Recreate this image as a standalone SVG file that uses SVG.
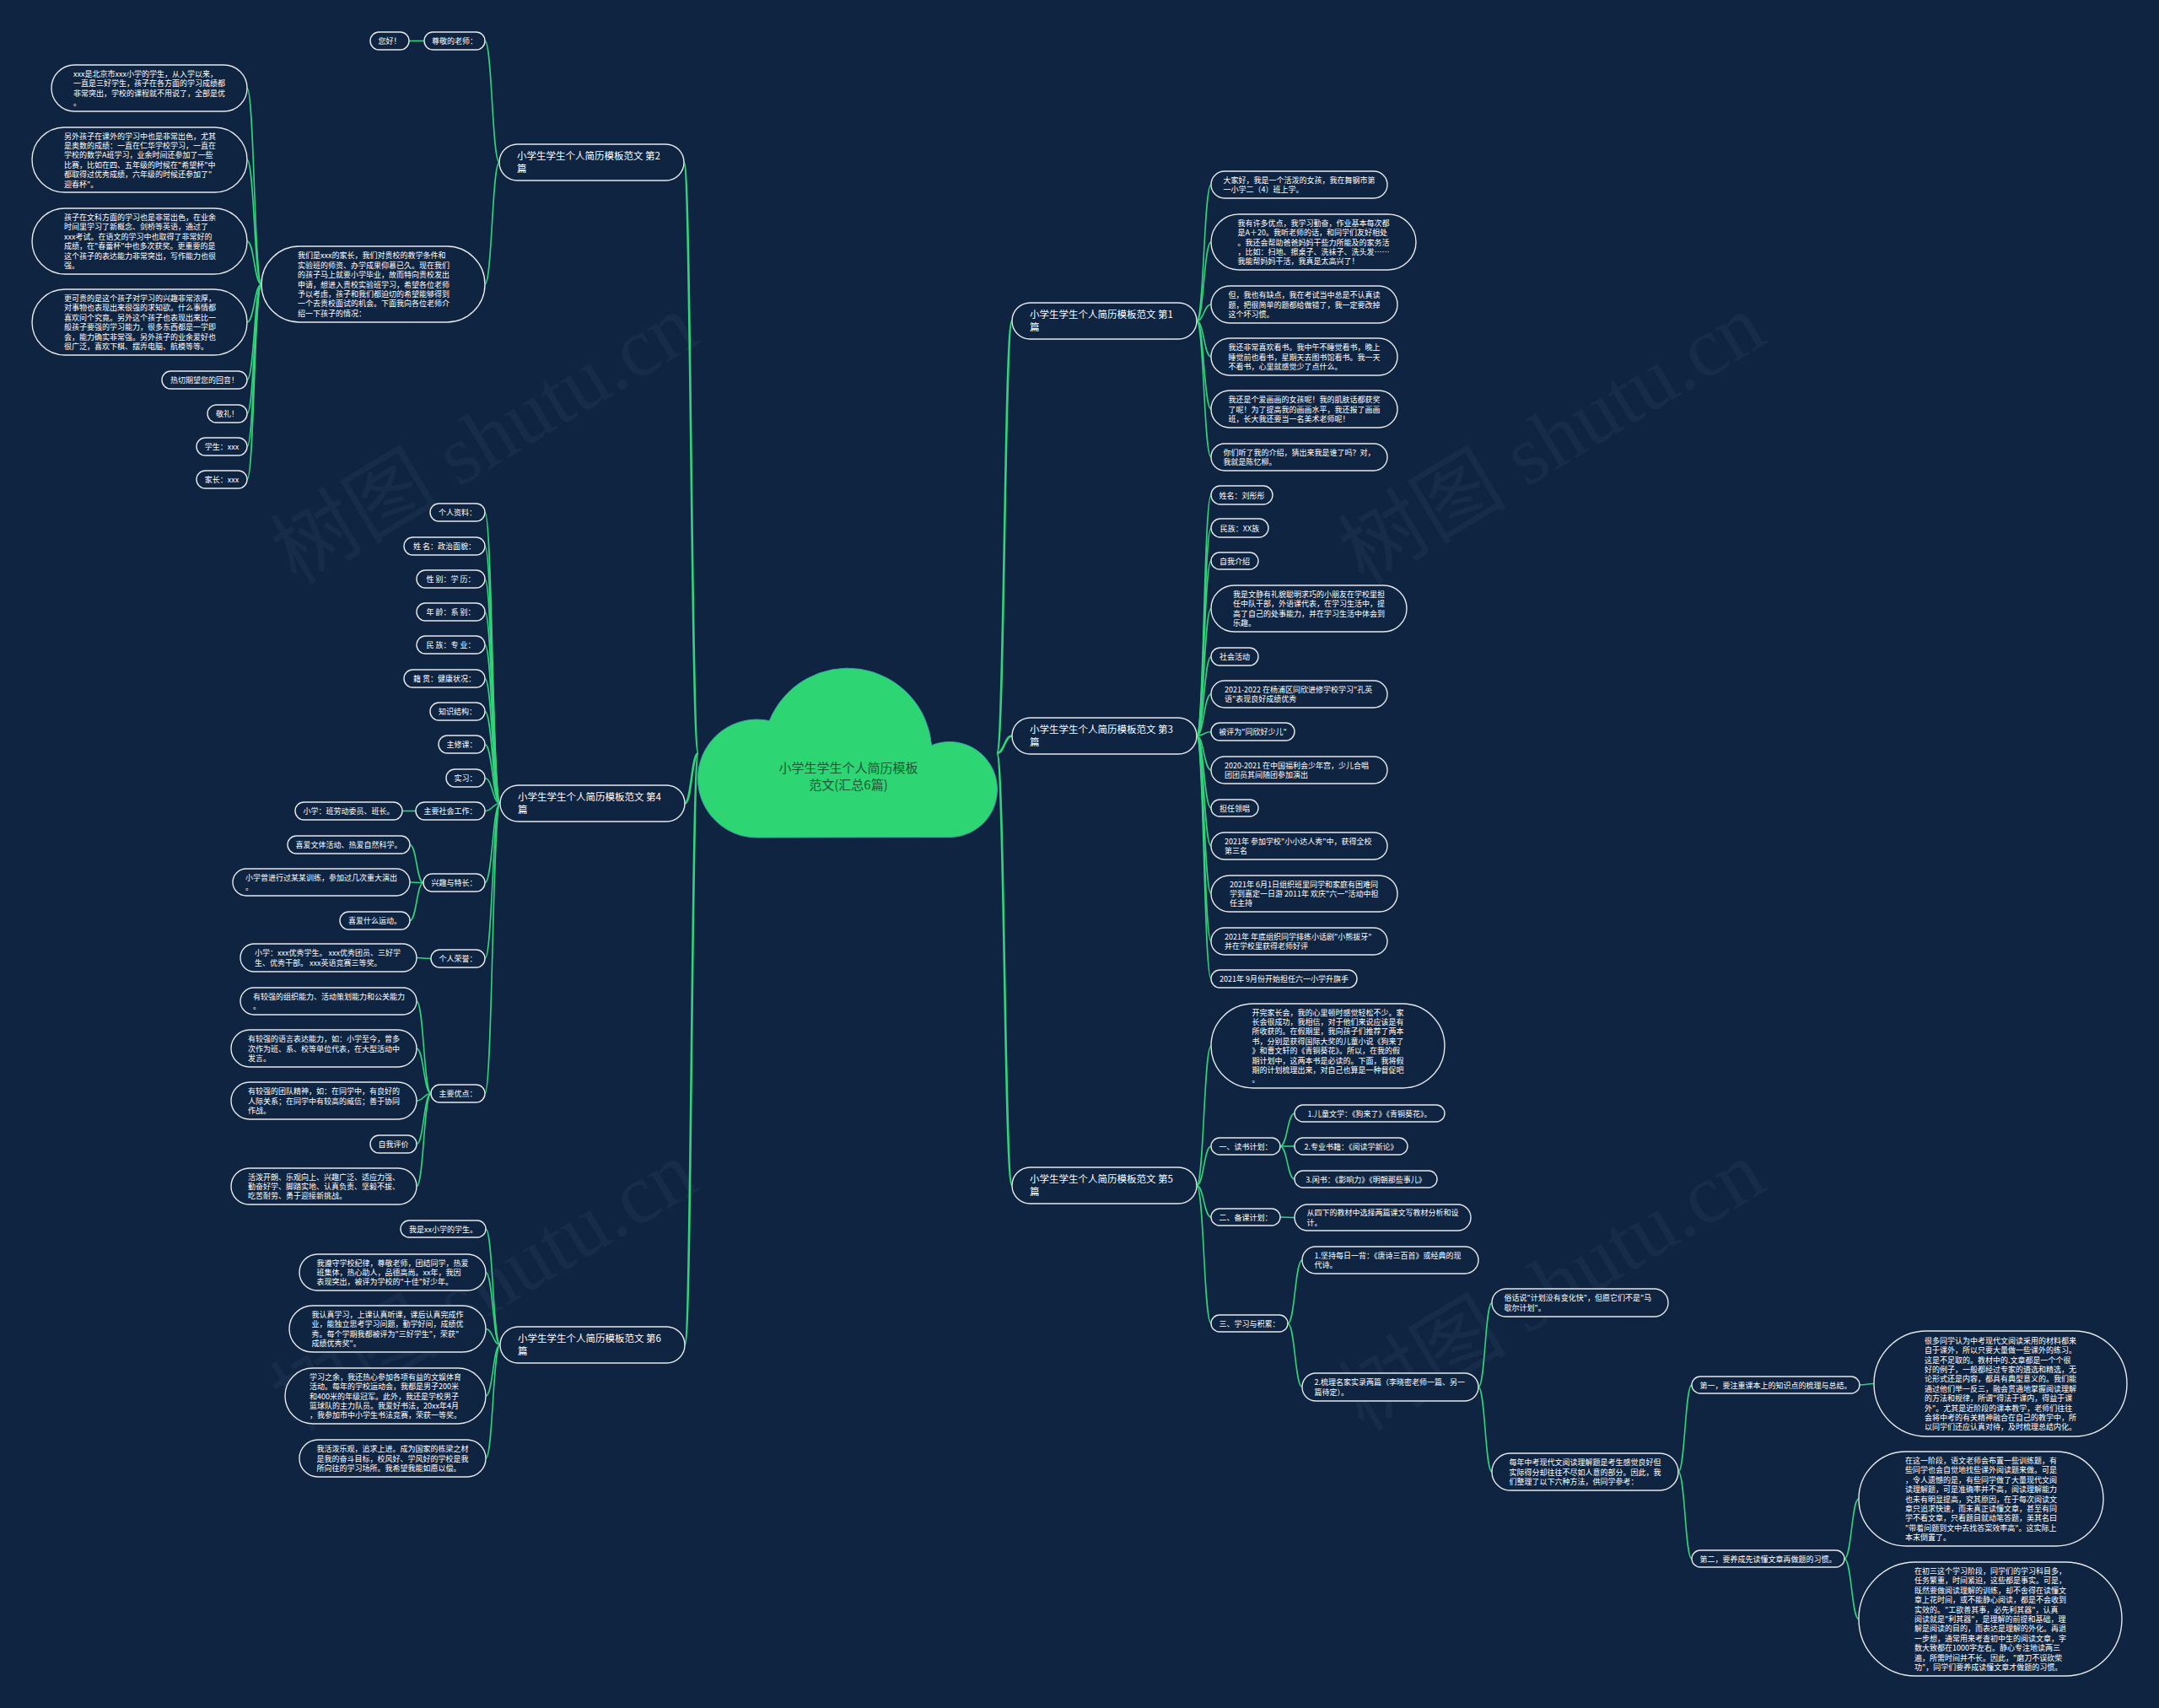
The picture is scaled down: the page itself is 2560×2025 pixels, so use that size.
<svg xmlns="http://www.w3.org/2000/svg" width="2560" height="2025" viewBox="0 0 2560 2025">
<style>
.nd{fill:#0e2441;stroke:#e6e8ec;stroke-width:1.4}
.tx{font-family:"Noto Sans CJK SC","Noto Sans",sans-serif;font-size:9px;fill:#ffffff}
.mt{font-size:11.5px}
.c{text-anchor:middle}
.ln{fill:none;stroke:#34d27b;stroke-width:1.6}
.lr{stroke-width:2.6}
.wm{font-family:"Liberation Serif","Noto Sans CJK SC",serif;font-size:100px;fill:#ffffff;opacity:0.035}
.root{font-family:"Noto Sans CJK SC","Noto Sans",sans-serif;font-size:15px;fill:#1a5a33;text-anchor:middle}
</style>
<rect width="2560" height="2025" fill="#0e2441"/>
<g id="watermark">
<text class="wm" transform="translate(351 694) rotate(-31)">树图 shutu.cn</text>
<text class="wm" transform="translate(1617 694) rotate(-31)">树图 shutu.cn</text>
<text class="wm" transform="translate(351 1698) rotate(-31)">树图 shutu.cn</text>
<text class="wm" transform="translate(1617 1698) rotate(-31)">树图 shutu.cn</text>
</g>
<g id="connectors">
<path class="ln lr" d="M828 893 C819.5 893 819.5 192.5 811 192.5"/>
<path class="ln lr" d="M828 893 C820 893 820 952.5 812 952.5"/>
<path class="ln lr" d="M828 893 C820 893 820 1594.5 812 1594.5"/>
<path class="ln lr" d="M1182 893 C1191 893 1191 380.5 1200 380.5"/>
<path class="ln lr" d="M1182 893 C1191 893 1191 872.5 1200 872.5"/>
<path class="ln lr" d="M1182 893 C1191 893 1191 1405.5 1200 1405.5"/>
<path class="ln" d="M592 192.5 C583.5 192.5 583.5 48.5 575 48.5"/>
<path class="ln" d="M592 192.5 C583.5 192.5 583.5 337 575 337"/>
<path class="ln" d="M503 48.5 L485 48.5"/>
<path class="ln" d="M310 337 C301.5 337 301.5 104.5 293 104.5"/>
<path class="ln" d="M310 337 C301.5 337 301.5 189.5 293 189.5"/>
<path class="ln" d="M310 337 C301.5 337 301.5 286 293 286"/>
<path class="ln" d="M310 337 C301.5 337 301.5 382 293 382"/>
<path class="ln" d="M310 337 C301.5 337 301.5 450.5 293 450.5"/>
<path class="ln" d="M310 337 C301.5 337 301.5 490.5 293 490.5"/>
<path class="ln" d="M310 337 C301.5 337 301.5 529.5 293 529.5"/>
<path class="ln" d="M310 337 C301.5 337 301.5 568.5 293 568.5"/>
<path class="ln" d="M593 952.5 C584 952.5 584 607.5 575 607.5"/>
<path class="ln" d="M593 952.5 C584 952.5 584 647.5 575 647.5"/>
<path class="ln" d="M593 952.5 C584 952.5 584 686.5 575 686.5"/>
<path class="ln" d="M593 952.5 C584 952.5 584 725.5 575 725.5"/>
<path class="ln" d="M593 952.5 C584 952.5 584 764.5 575 764.5"/>
<path class="ln" d="M593 952.5 C584 952.5 584 804.5 575 804.5"/>
<path class="ln" d="M593 952.5 C584 952.5 584 843.5 575 843.5"/>
<path class="ln" d="M593 952.5 C584 952.5 584 882.5 575 882.5"/>
<path class="ln" d="M593 952.5 C584 952.5 584 922.5 575 922.5"/>
<path class="ln" d="M593 952.5 C584 952.5 584 961.5 575 961.5"/>
<path class="ln" d="M593 952.5 C584 952.5 584 1046.5 575 1046.5"/>
<path class="ln" d="M593 952.5 C584 952.5 584 1136.5 575 1136.5"/>
<path class="ln" d="M593 952.5 C584 952.5 584 1296.5 575 1296.5"/>
<path class="ln" d="M493 961.5 L477 961.5"/>
<path class="ln" d="M502 1046.5 C494 1046.5 494 1001.5 486 1001.5"/>
<path class="ln" d="M502 1046.5 C494 1046.5 494 1046 486 1046"/>
<path class="ln" d="M502 1046.5 C494 1046.5 494 1091.5 486 1091.5"/>
<path class="ln" d="M511 1136.5 C502.5 1136.5 502.5 1135.5 494 1135.5"/>
<path class="ln" d="M511 1296.5 C502.5 1296.5 502.5 1187 494 1187"/>
<path class="ln" d="M511 1296.5 C502.5 1296.5 502.5 1243 494 1243"/>
<path class="ln" d="M511 1296.5 C502.5 1296.5 502.5 1305 494 1305"/>
<path class="ln" d="M511 1296.5 C502.5 1296.5 502.5 1356.5 494 1356.5"/>
<path class="ln" d="M511 1296.5 C502.5 1296.5 502.5 1406.5 494 1406.5"/>
<path class="ln" d="M593 1594.5 C584.5 1594.5 584.5 1457 576 1457"/>
<path class="ln" d="M593 1594.5 C584.5 1594.5 584.5 1508.5 576 1508.5"/>
<path class="ln" d="M593 1594.5 C584.5 1594.5 584.5 1575.5 576 1575.5"/>
<path class="ln" d="M593 1594.5 C584.5 1594.5 584.5 1655 576 1655"/>
<path class="ln" d="M593 1594.5 C584.5 1594.5 584.5 1729 576 1729"/>
<path class="ln" d="M1419 380.5 C1427.5 380.5 1427.5 219 1436 219"/>
<path class="ln" d="M1419 380.5 C1427.5 380.5 1427.5 287 1436 287"/>
<path class="ln" d="M1419 380.5 C1427.5 380.5 1427.5 361 1436 361"/>
<path class="ln" d="M1419 380.5 C1427.5 380.5 1427.5 423 1436 423"/>
<path class="ln" d="M1419 380.5 C1427.5 380.5 1427.5 485 1436 485"/>
<path class="ln" d="M1419 380.5 C1427.5 380.5 1427.5 542 1436 542"/>
<path class="ln" d="M1419 872.5 C1427.5 872.5 1427.5 587 1436 587"/>
<path class="ln" d="M1419 872.5 C1427.5 872.5 1427.5 626 1436 626"/>
<path class="ln" d="M1419 872.5 C1427.5 872.5 1427.5 665 1436 665"/>
<path class="ln" d="M1419 872.5 C1427.5 872.5 1427.5 721.5 1436 721.5"/>
<path class="ln" d="M1419 872.5 C1427.5 872.5 1427.5 778.5 1436 778.5"/>
<path class="ln" d="M1419 872.5 C1427.5 872.5 1427.5 823 1436 823"/>
<path class="ln" d="M1419 872.5 C1427.5 872.5 1427.5 867.5 1436 867.5"/>
<path class="ln" d="M1419 872.5 C1427.5 872.5 1427.5 913 1436 913"/>
<path class="ln" d="M1419 872.5 C1427.5 872.5 1427.5 958 1436 958"/>
<path class="ln" d="M1419 872.5 C1427.5 872.5 1427.5 1003 1436 1003"/>
<path class="ln" d="M1419 872.5 C1427.5 872.5 1427.5 1059.5 1436 1059.5"/>
<path class="ln" d="M1419 872.5 C1427.5 872.5 1427.5 1116 1436 1116"/>
<path class="ln" d="M1419 872.5 C1427.5 872.5 1427.5 1160.5 1436 1160.5"/>
<path class="ln" d="M1419 1405.5 C1427.5 1405.5 1427.5 1240 1436 1240"/>
<path class="ln" d="M1419 1405.5 C1427.5 1405.5 1427.5 1359 1436 1359"/>
<path class="ln" d="M1419 1405.5 C1427.5 1405.5 1427.5 1443 1436 1443"/>
<path class="ln" d="M1419 1405.5 C1427.5 1405.5 1427.5 1569 1436 1569"/>
<path class="ln" d="M1518 1359 C1526.5 1359 1526.5 1320 1535 1320"/>
<path class="ln" d="M1518 1359 C1526.5 1359 1526.5 1359 1535 1359"/>
<path class="ln" d="M1518 1359 C1526.5 1359 1526.5 1398 1535 1398"/>
<path class="ln" d="M1518 1443 C1526.5 1443 1526.5 1443.5 1535 1443.5"/>
<path class="ln" d="M1527 1569 C1535.5 1569 1535.5 1494 1544 1494"/>
<path class="ln" d="M1527 1569 C1535.5 1569 1535.5 1644.5 1544 1644.5"/>
<path class="ln" d="M1753 1644.5 C1761 1644.5 1761 1544.5 1769 1544.5"/>
<path class="ln" d="M1753 1644.5 C1761 1644.5 1761 1745 1769 1745"/>
<path class="ln" d="M1990 1745 C1998 1745 1998 1642 2006 1642"/>
<path class="ln" d="M1990 1745 C1998 1745 1998 1848 2006 1848"/>
<path class="ln" d="M2205 1642 C2213.5 1642 2213.5 1640.5 2222 1640.5"/>
<path class="ln" d="M2187 1848 C2195.5 1848 2195.5 1777 2204 1777"/>
<path class="ln" d="M2187 1848 C2195.5 1848 2195.5 1919.5 2204 1919.5"/>
</g>
<g id="root">
<path d="M898 993 A70 70 0 1 1 912.3 854.6 A100 100 0 0 1 1104.6 883.7 A56.5 56.5 0 1 1 1126 992.5 Z" fill="#2ed573" stroke="#3aa8a8" stroke-width="1"/>
<text class="root" x="1006" y="915.5">小学生学生个人简历模板</text>
<text class="root" x="1006" y="935.5">范文(汇总6篇)</text>
</g>
<g id="b2"><rect class="nd" x="592" y="171" width="219" height="43" rx="21.5"/><text class="tx mt" x="613" y="188.5">小学生学生个人简历模板范文 第2<tspan x="613" dy="15">篇</tspan></text></g>
<g id="b2-zj"><rect class="nd" x="503" y="38" width="72" height="21" rx="10.5"/><text class="tx c" x="539" y="52">尊敬的老师：</text></g>
<g id="b2-nh"><rect class="nd" x="439" y="38" width="46" height="21" rx="10.5"/><text class="tx c" x="462" y="52">您好！</text></g>
<g id="b2-big"><rect class="nd" x="310" y="292" width="265" height="90" rx="45"/><text class="tx" x="353" y="306.3">我们是xxx的家长，我们对贵校的教学条件和<tspan x="353" dy="11.4">实验班的师资、办学成果仰慕已久。现在我们</tspan><tspan x="353" dy="11.4">的孩子马上就要小学毕业，故而特向贵校发出</tspan><tspan x="353" dy="11.4">申请，想进入贵校实验班学习，希望各位老师</tspan><tspan x="353" dy="11.4">予以考虑，孩子和我们都迫切的希望能够得到</tspan><tspan x="353" dy="11.4">一个去贵校面试的机会。下面我向各位老师介</tspan><tspan x="353" dy="11.4">绍一下孩子的情况：</tspan></text></g>
<g id="b2-a"><rect class="nd" x="61" y="77" width="232" height="55" rx="27.5"/><text class="tx" x="87" y="90.9">xxx是北京市xxx小学的学生，从入学以来，<tspan x="87" dy="11.4">一直是三好学生，孩子在各方面的学习成绩都</tspan><tspan x="87" dy="11.4">非常突出，学校的课程就不用说了，全部是优</tspan><tspan x="87" dy="11.4">。</tspan></text></g>
<g id="b2-b"><rect class="nd" x="38" y="151" width="255" height="77" rx="38.5"/><text class="tx" x="76" y="164.5">另外孩子在课外的学习中也是非常出色，尤其<tspan x="76" dy="11.4">是奥数的成绩：一直在仁华学校学习，一直在</tspan><tspan x="76" dy="11.4">学校的数学A班学习，业余时间还参加了一些</tspan><tspan x="76" dy="11.4">比赛，比如在四、五年级的时候在"希望杯"中</tspan><tspan x="76" dy="11.4">都取得过优秀成绩，六年级的时候还参加了"</tspan><tspan x="76" dy="11.4">迎春杯"。</tspan></text></g>
<g id="b2-c"><rect class="nd" x="38" y="247" width="255" height="78" rx="39"/><text class="tx" x="76" y="261">孩子在文科方面的学习也是非常出色，在业余<tspan x="76" dy="11.4">时间里学习了新概念、剑桥等英语，通过了</tspan><tspan x="76" dy="11.4">xxx考试。在语文的学习中也取得了非常好的</tspan><tspan x="76" dy="11.4">成绩，在"春蕾杯"中也多次获奖。更重要的是</tspan><tspan x="76" dy="11.4">这个孩子的表达能力非常突出，写作能力也很</tspan><tspan x="76" dy="11.4">强。</tspan></text></g>
<g id="b2-d"><rect class="nd" x="38" y="343" width="255" height="78" rx="39"/><text class="tx" x="76" y="357">更可贵的是这个孩子对学习的兴趣非常浓厚，<tspan x="76" dy="11.4">对事物也表现出来很强的求知欲。什么事情都</tspan><tspan x="76" dy="11.4">喜欢问个究竟。另外这个孩子也表现出来比一</tspan><tspan x="76" dy="11.4">般孩子要强的学习能力，很多东西都是一学即</tspan><tspan x="76" dy="11.4">会，能力确实非常强。另外孩子的业余爱好也</tspan><tspan x="76" dy="11.4">很广泛，喜欢下棋、摆弄电脑、航模等等。</tspan></text></g>
<g id="b2-e"><rect class="nd" x="192" y="440" width="101" height="21" rx="10.5"/><text class="tx c" x="242.5" y="454">热切期望您的回音！</text></g>
<g id="b2-f"><rect class="nd" x="246" y="480" width="47" height="21" rx="10.5"/><text class="tx c" x="269.5" y="494">敬礼！</text></g>
<g id="b2-g"><rect class="nd" x="233" y="519" width="60" height="21" rx="10.5"/><text class="tx c" x="263" y="533">学生：xxx</text></g>
<g id="b2-h"><rect class="nd" x="233" y="558" width="60" height="21" rx="10.5"/><text class="tx c" x="263" y="572">家长：xxx</text></g>
<g id="b4"><rect class="nd" x="593" y="931" width="219" height="43" rx="21.5"/><text class="tx mt" x="614" y="948.5">小学生学生个人简历模板范文 第4<tspan x="614" dy="15">篇</tspan></text></g>
<g id="b4-1"><rect class="nd" x="510" y="597" width="65" height="21" rx="10.5"/><text class="tx c" x="542.5" y="611">个人资料：</text></g>
<g id="b4-2"><rect class="nd" x="479" y="637" width="96" height="21" rx="10.5"/><text class="tx c" x="527" y="651">姓 名：政治面貌：</text></g>
<g id="b4-3"><rect class="nd" x="494" y="676" width="81" height="21" rx="10.5"/><text class="tx c" x="534.5" y="690">性 别：学 历：</text></g>
<g id="b4-4"><rect class="nd" x="494" y="715" width="81" height="21" rx="10.5"/><text class="tx c" x="534.5" y="729">年 龄：系 别：</text></g>
<g id="b4-5"><rect class="nd" x="494" y="754" width="81" height="21" rx="10.5"/><text class="tx c" x="534.5" y="768">民 族：专 业：</text></g>
<g id="b4-6"><rect class="nd" x="479" y="794" width="96" height="21" rx="10.5"/><text class="tx c" x="527" y="808">籍 贯：健康状况：</text></g>
<g id="b4-7"><rect class="nd" x="510" y="833" width="65" height="21" rx="10.5"/><text class="tx c" x="542.5" y="847">知识结构：</text></g>
<g id="b4-8"><rect class="nd" x="520" y="872" width="55" height="21" rx="10.5"/><text class="tx c" x="547.5" y="886">主修课：</text></g>
<g id="b4-9"><rect class="nd" x="529" y="912" width="46" height="21" rx="10.5"/><text class="tx c" x="552" y="926">实习：</text></g>
<g id="b4-10"><rect class="nd" x="493" y="951" width="82" height="21" rx="10.5"/><text class="tx c" x="534" y="965">主要社会工作：</text></g>
<g id="b4-10a"><rect class="nd" x="350" y="951" width="127" height="21" rx="10.5"/><text class="tx c" x="413.5" y="965">小学：班劳动委员、班长。</text></g>
<g id="b4-11"><rect class="nd" x="502" y="1036" width="73" height="21" rx="10.5"/><text class="tx c" x="538.5" y="1050">兴趣与特长：</text></g>
<g id="b4-11a"><rect class="nd" x="341" y="991" width="145" height="21" rx="10.5"/><text class="tx c" x="413.5" y="1005">喜爱文体活动、热爱自然科学。</text></g>
<g id="b4-11b"><rect class="nd" x="276" y="1030" width="210" height="32" rx="16"/><text class="tx" x="291" y="1043.8">小学曾进行过某某训练，参加过几次重大演出<tspan x="291" dy="11.4">。</tspan></text></g>
<g id="b4-11c"><rect class="nd" x="403" y="1081" width="83" height="21" rx="10.5"/><text class="tx c" x="444.5" y="1095">喜爱什么运动。</text></g>
<g id="b4-12"><rect class="nd" x="511" y="1126" width="64" height="21" rx="10.5"/><text class="tx c" x="543" y="1140">个人荣誉：</text></g>
<g id="b4-12a"><rect class="nd" x="285" y="1119" width="209" height="33" rx="16.5"/><text class="tx" x="302" y="1133.3">小学：xxx优秀学生。 xxx优秀团员、三好学<tspan x="302" dy="11.4">生、优秀干部。 xxx英语竞赛三等奖。</tspan></text></g>
<g id="b4-13"><rect class="nd" x="511" y="1286" width="64" height="21" rx="10.5"/><text class="tx c" x="543" y="1300">主要优点：</text></g>
<g id="b4-13a"><rect class="nd" x="285" y="1171" width="209" height="32" rx="16"/><text class="tx" x="300" y="1184.8">有较强的组织能力、活动策划能力和公关能力<tspan x="300" dy="11.4">。</tspan></text></g>
<g id="b4-13b"><rect class="nd" x="274" y="1221" width="220" height="44" rx="22"/><text class="tx" x="294" y="1235.1">有较强的语言表达能力，如：小学至今，曾多<tspan x="294" dy="11.4">次作为班、系、校等单位代表，在大型活动中</tspan><tspan x="294" dy="11.4">发言。</tspan></text></g>
<g id="b4-13c"><rect class="nd" x="274" y="1283" width="220" height="44" rx="22"/><text class="tx" x="294" y="1297.1">有较强的团队精神，如：在同学中，有良好的<tspan x="294" dy="11.4">人际关系；在同学中有较高的威信；善于协同</tspan><tspan x="294" dy="11.4">作战。</tspan></text></g>
<g id="b4-13d"><rect class="nd" x="439" y="1346" width="55" height="21" rx="10.5"/><text class="tx c" x="466.5" y="1360">自我评价</text></g>
<g id="b4-13e"><rect class="nd" x="274" y="1385" width="220" height="43" rx="21.5"/><text class="tx" x="294" y="1398.6">活泼开朗、乐观向上、兴趣广泛、适应力强、<tspan x="294" dy="11.4">勤奋好学、脚踏实地、认真负责、坚毅不拔、</tspan><tspan x="294" dy="11.4">吃苦耐劳、勇于迎接新挑战。</tspan></text></g>
<g id="b6"><rect class="nd" x="593" y="1573" width="219" height="43" rx="21.5"/><text class="tx mt" x="614" y="1590.5">小学生学生个人简历模板范文 第6<tspan x="614" dy="15">篇</tspan></text></g>
<g id="b6-1"><rect class="nd" x="475" y="1447" width="101" height="20" rx="10"/><text class="tx c" x="525.5" y="1460.5">我是xx小学的学生。</text></g>
<g id="b6-2"><rect class="nd" x="355" y="1487" width="221" height="43" rx="21.5"/><text class="tx" x="375.5" y="1500.6">我遵守学校纪律，尊敬老师，团结同学，热爱<tspan x="375.5" dy="11.4">班集体，热心助人，品德高尚。xx年，我因</tspan><tspan x="375.5" dy="11.4">表现突出，被评为学校的"十佳"好少年。</tspan></text></g>
<g id="b6-3"><rect class="nd" x="343" y="1548" width="233" height="55" rx="27.5"/><text class="tx" x="369.5" y="1561.9">我认真学习，上课认真听课，课后认真完成作<tspan x="369.5" dy="11.4">业，能独立思考学习问题，勤学好问，成绩优</tspan><tspan x="369.5" dy="11.4">秀。每个学期我都被评为"三好学生"，荣获"</tspan><tspan x="369.5" dy="11.4">成绩优秀奖"。</tspan></text></g>
<g id="b6-4"><rect class="nd" x="338" y="1622" width="238" height="66" rx="33"/><text class="tx" x="367" y="1635.7">学习之余，我还热心参加各项有益的文娱体育<tspan x="367" dy="11.4">活动。每年的学校运动会，我都是男子200米</tspan><tspan x="367" dy="11.4">和400米的年级冠军。此外，我还是学校男子</tspan><tspan x="367" dy="11.4">篮球队的主力队员。我爱好书法，20xx年4月</tspan><tspan x="367" dy="11.4">，我参加市中小学生书法竞赛，荣获一等奖。</tspan></text></g>
<g id="b6-5"><rect class="nd" x="355" y="1707" width="221" height="44" rx="22"/><text class="tx" x="375.5" y="1721.1">我活泼乐观，追求上进。成为国家的栋梁之材<tspan x="375.5" dy="11.4">是我的奋斗目标，校风好、学风好的学校是我</tspan><tspan x="375.5" dy="11.4">所向往的学习场所。我希望我能如愿以偿。</tspan></text></g>
<g id="b1"><rect class="nd" x="1200" y="359" width="219" height="43" rx="21.5"/><text class="tx mt" x="1221" y="376.5">小学生学生个人简历模板范文 第1<tspan x="1221" dy="15">篇</tspan></text></g>
<g id="b1-1"><rect class="nd" x="1436" y="203" width="209" height="32" rx="16"/><text class="tx" x="1450.5" y="216.8">大家好，我是一个活泼的女孩，我在舞钢市第<tspan x="1450.5" dy="11.4">一小学二（4）班上学。</tspan></text></g>
<g id="b1-2"><rect class="nd" x="1436" y="254" width="243" height="66" rx="33"/><text class="tx" x="1467.5" y="267.7">我有许多优点，我学习勤奋，作业基本每次都<tspan x="1467.5" dy="11.4">是A＋20。我听老师的话，和同学们友好相处</tspan><tspan x="1467.5" dy="11.4">。我还会帮助爸爸妈妈干些力所能及的家务活</tspan><tspan x="1467.5" dy="11.4">，比如：扫地、擦桌子、洗袜子、洗头发……</tspan><tspan x="1467.5" dy="11.4">我能帮妈妈干活，我真是太高兴了！</tspan></text></g>
<g id="b1-3"><rect class="nd" x="1436" y="339" width="221" height="44" rx="22"/><text class="tx" x="1456.5" y="353.1">但，我也有缺点，我在考试当中总是不认真读<tspan x="1456.5" dy="11.4">题，把很简单的题都给做错了，我一定要改掉</tspan><tspan x="1456.5" dy="11.4">这个坏习惯。</tspan></text></g>
<g id="b1-4"><rect class="nd" x="1436" y="401" width="221" height="44" rx="22"/><text class="tx" x="1456.5" y="415.1">我还非常喜欢看书。我中午不睡觉看书，晚上<tspan x="1456.5" dy="11.4">睡觉前也看书，星期天去图书馆看书。我一天</tspan><tspan x="1456.5" dy="11.4">不看书，心里就感觉少了点什么。</tspan></text></g>
<g id="b1-5"><rect class="nd" x="1436" y="463" width="221" height="44" rx="22"/><text class="tx" x="1456.5" y="477.1">我还是个爱画画的女孩呢！我的肌肤话都获奖<tspan x="1456.5" dy="11.4">了呢！为了提高我的画画水平，我还报了画画</tspan><tspan x="1456.5" dy="11.4">班，长大我还要当一名美术老师呢！</tspan></text></g>
<g id="b1-6"><rect class="nd" x="1436" y="526" width="209" height="32" rx="16"/><text class="tx" x="1450.5" y="539.8">你们听了我的介绍，猜出来我是谁了吗？对，<tspan x="1450.5" dy="11.4">我就是陈忆柳。</tspan></text></g>
<g id="b3"><rect class="nd" x="1200" y="851" width="219" height="43" rx="21.5"/><text class="tx mt" x="1221" y="868.5">小学生学生个人简历模板范文 第3<tspan x="1221" dy="15">篇</tspan></text></g>
<g id="b3-1"><rect class="nd" x="1436" y="576" width="73" height="22" rx="11"/><text class="tx c" x="1472.5" y="590.5">姓名：刘彤彤</text></g>
<g id="b3-2"><rect class="nd" x="1436" y="615" width="68" height="22" rx="11"/><text class="tx c" x="1470" y="629.5">民族：XX族</text></g>
<g id="b3-3"><rect class="nd" x="1436" y="655" width="56" height="20" rx="10"/><text class="tx c" x="1464" y="668.5">自我介绍</text></g>
<g id="b3-4"><rect class="nd" x="1436" y="694" width="232" height="55" rx="27.5"/><text class="tx" x="1462" y="707.9">我是文静有礼貌聪明求巧的小朋友在学校里担<tspan x="1462" dy="11.4">任中队干部，外语课代表，在学习生活中，提</tspan><tspan x="1462" dy="11.4">高了自己的处事能力，并在学习生活中体会到</tspan><tspan x="1462" dy="11.4">乐趣。</tspan></text></g>
<g id="b3-5"><rect class="nd" x="1436" y="768" width="56" height="21" rx="10.5"/><text class="tx c" x="1464" y="782">社会活动</text></g>
<g id="b3-6"><rect class="nd" x="1436" y="807" width="209" height="32" rx="16"/><text class="tx" x="1452" y="820.8">2021-2022 在杨浦区同欣进修学校学习"孔英<tspan x="1452" dy="11.4">语"表现良好成绩优秀</tspan></text></g>
<g id="b3-7"><rect class="nd" x="1436" y="857" width="99" height="21" rx="10.5"/><text class="tx c" x="1485.5" y="871">被评为"同欣好少儿"</text></g>
<g id="b3-8"><rect class="nd" x="1436" y="897" width="209" height="32" rx="16"/><text class="tx" x="1452" y="910.8">2020-2021 在中国福利会少年宫，少儿合唱<tspan x="1452" dy="11.4">团团员其间随团参加演出</tspan></text></g>
<g id="b3-9"><rect class="nd" x="1436" y="948" width="56" height="20" rx="10"/><text class="tx c" x="1464" y="961.5">担任领唱</text></g>
<g id="b3-10"><rect class="nd" x="1436" y="987" width="209" height="32" rx="16"/><text class="tx" x="1452" y="1000.8">2021年 参加学校"小小达人秀"中，获得全校<tspan x="1452" dy="11.4">第三名</tspan></text></g>
<g id="b3-11"><rect class="nd" x="1436" y="1038" width="221" height="43" rx="21.5"/><text class="tx" x="1458" y="1051.6">2021年 6月1日组织班里同学和家庭有困难同<tspan x="1458" dy="11.4">学到嘉定一日游 2011年 欢庆"六一"活动中担</tspan><tspan x="1458" dy="11.4">任主持</tspan></text></g>
<g id="b3-12"><rect class="nd" x="1436" y="1100" width="209" height="32" rx="16"/><text class="tx" x="1452" y="1113.8">2021年 年底组织同学排练小话剧"小熊拔牙"<tspan x="1452" dy="11.4">并在学校里获得老师好评</tspan></text></g>
<g id="b3-13"><rect class="nd" x="1436" y="1150" width="173" height="21" rx="10.5"/><text class="tx c" x="1522.5" y="1164">2021年 9月份开始担任六一小学升旗手</text></g>
<g id="b5"><rect class="nd" x="1200" y="1384" width="219" height="43" rx="21.5"/><text class="tx mt" x="1221" y="1401.5">小学生学生个人简历模板范文 第5<tspan x="1221" dy="15">篇</tspan></text></g>
<g id="b5-1"><rect class="nd" x="1436" y="1190" width="277" height="100" rx="50"/><text class="tx" x="1484.5" y="1203.6">开完家长会，我的心里顿时感觉轻松不少。家<tspan x="1484.5" dy="11.4">长会很成功，我相信，对于他们来说应该是有</tspan><tspan x="1484.5" dy="11.4">所收获的。在假期里，我向孩子们推荐了两本</tspan><tspan x="1484.5" dy="11.4">书，分别是获得国际大奖的儿童小说《狗来了</tspan><tspan x="1484.5" dy="11.4">》和曹文轩的《青铜葵花》。所以，在我的假</tspan><tspan x="1484.5" dy="11.4">期计划中，这两本书是必读的。下面，我将假</tspan><tspan x="1484.5" dy="11.4">期的计划梳理出来，对自己也算是一种督促吧</tspan><tspan x="1484.5" dy="11.4">。</tspan></text></g>
<g id="b5-2"><rect class="nd" x="1436" y="1349" width="82" height="20" rx="10"/><text class="tx c" x="1477" y="1362.5">一、读书计划：</text></g>
<g id="b5-2a"><rect class="nd" x="1535" y="1310" width="178" height="20" rx="10"/><text class="tx c" x="1624" y="1323.5">1.儿童文学：《狗来了》《青铜葵花》。</text></g>
<g id="b5-2b"><rect class="nd" x="1535" y="1349" width="134" height="20" rx="10"/><text class="tx c" x="1602" y="1362.5">2.专业书籍：《阅读学新论》</text></g>
<g id="b5-2c"><rect class="nd" x="1535" y="1388" width="169" height="20" rx="10"/><text class="tx c" x="1619.5" y="1401.5">3.闲书：《影响力》《明朝那些事儿》</text></g>
<g id="b5-3"><rect class="nd" x="1436" y="1433" width="82" height="20" rx="10"/><text class="tx c" x="1477" y="1446.5">二、备课计划：</text></g>
<g id="b5-3a"><rect class="nd" x="1535" y="1428" width="209" height="31" rx="15.5"/><text class="tx" x="1549.5" y="1441.3">从四下的教材中选择两篇课文写教材分析和设<tspan x="1549.5" dy="11.4">计。</tspan></text></g>
<g id="b5-4"><rect class="nd" x="1436" y="1559" width="91" height="20" rx="10"/><text class="tx c" x="1481.5" y="1572.5">三、学习与积累：</text></g>
<g id="b5-4a"><rect class="nd" x="1544" y="1478" width="209" height="32" rx="16"/><text class="tx" x="1558.5" y="1491.8">1.坚持每日一背：《唐诗三百首》或经典的现<tspan x="1558.5" dy="11.4">代诗。</tspan></text></g>
<g id="b5-4b"><rect class="nd" x="1544" y="1628" width="209" height="33" rx="16.5"/><text class="tx" x="1558.5" y="1642.3">2.梳理名家实录两篇（李晓密老师一篇、另一<tspan x="1558.5" dy="11.4">篇待定）。</tspan></text></g>
<g id="b5-4b1"><rect class="nd" x="1769" y="1528" width="209" height="33" rx="16.5"/><text class="tx" x="1783.5" y="1542.3">俗话说"计划没有变化快"，但愿它们不是"马<tspan x="1783.5" dy="11.4">歇尔计划"。</tspan></text></g>
<g id="b5-4b2"><rect class="nd" x="1769" y="1723" width="221" height="44" rx="22"/><text class="tx" x="1789.5" y="1737.1">每年中考现代文阅读理解题是考生感觉良好但<tspan x="1789.5" dy="11.4">实际得分却往往不尽如人意的部分。因此，我</tspan><tspan x="1789.5" dy="11.4">们整理了以下六种方法，供同学参考：</tspan></text></g>
<g id="b5-p1"><rect class="nd" x="2006" y="1632" width="199" height="20" rx="10"/><text class="tx c" x="2105.5" y="1645.5">第一，要注重课本上的知识点的梳理与总结。</text></g>
<g id="b5-p1a"><rect class="nd" x="2222" y="1578" width="300" height="125" rx="62.5"/><text class="tx" x="2282" y="1592.7">很多同学认为中考现代文阅读采用的材料都来<tspan x="2282" dy="11.4">自于课外，所以只要大量做一些课外的练习。</tspan><tspan x="2282" dy="11.4">这是不足取的。教材中的.文章都是一个个很</tspan><tspan x="2282" dy="11.4">好的例子，一般都经过专家的遴选和精选，无</tspan><tspan x="2282" dy="11.4">论形式还是内容，都具有典型意义的。我们能</tspan><tspan x="2282" dy="11.4">通过他们举一反三，融会贯通地掌握阅读理解</tspan><tspan x="2282" dy="11.4">的方法和规律，所谓"得法于课内，得益于课</tspan><tspan x="2282" dy="11.4">外"。尤其是近阶段的课本教学，老师们往往</tspan><tspan x="2282" dy="11.4">会将中考的有关精神融合在自己的教学中，所</tspan><tspan x="2282" dy="11.4">以同学们还应认真对待，及时梳理总结内化。</tspan></text></g>
<g id="b5-p2"><rect class="nd" x="2006" y="1838" width="181" height="20" rx="10"/><text class="tx c" x="2096.5" y="1851.5">第二，要养成先读懂文章再做题的习惯。</text></g>
<g id="b5-p2a"><rect class="nd" x="2204" y="1721" width="290" height="112" rx="56"/><text class="tx" x="2259" y="1734.9">在这一阶段，语文老师会布置一些训练题，有<tspan x="2259" dy="11.4">些同学也会自觉地找些课外阅读题来做。可是</tspan><tspan x="2259" dy="11.4">，令人遗憾的是，有些同学做了大量现代文阅</tspan><tspan x="2259" dy="11.4">读理解题，可是准确率并不高，阅读理解能力</tspan><tspan x="2259" dy="11.4">也未有明显提高，究其原因，在于每次阅读文</tspan><tspan x="2259" dy="11.4">章只追求快速，而未真正读懂文章，甚至有同</tspan><tspan x="2259" dy="11.4">学不看文章，只看题目就动笔答题，美其名曰</tspan><tspan x="2259" dy="11.4">"带着问题到文中去找答案效率高"。这实际上</tspan><tspan x="2259" dy="11.4">本末倒置了。</tspan></text></g>
<g id="b5-p2b"><rect class="nd" x="2204" y="1852" width="312" height="135" rx="67.5"/><text class="tx" x="2270" y="1866">在初三这个学习阶段，同学们的学习科目多，<tspan x="2270" dy="11.4">任务繁重，时间紧迫，这些都是事实。可是，</tspan><tspan x="2270" dy="11.4">既然要做阅读理解的训练，却不舍得在读懂文</tspan><tspan x="2270" dy="11.4">章上花时间，或不能静心阅读，都是不会收到</tspan><tspan x="2270" dy="11.4">实效的。"工欲善其事，必先利其器"，认真</tspan><tspan x="2270" dy="11.4">阅读就是"利其器"，是理解的前提和基础，理</tspan><tspan x="2270" dy="11.4">解是阅读的目的，而表达是理解的外化。再退</tspan><tspan x="2270" dy="11.4">一步想，通常用来考查初中生的阅读文章，字</tspan><tspan x="2270" dy="11.4">数大致都在1000字左右。静心专注地读两三</tspan><tspan x="2270" dy="11.4">遍，所需时间并不长。因此，"磨刀不误砍柴</tspan><tspan x="2270" dy="11.4">功"，同学们要养成读懂文章才做题的习惯。</tspan></text></g>
</svg>
